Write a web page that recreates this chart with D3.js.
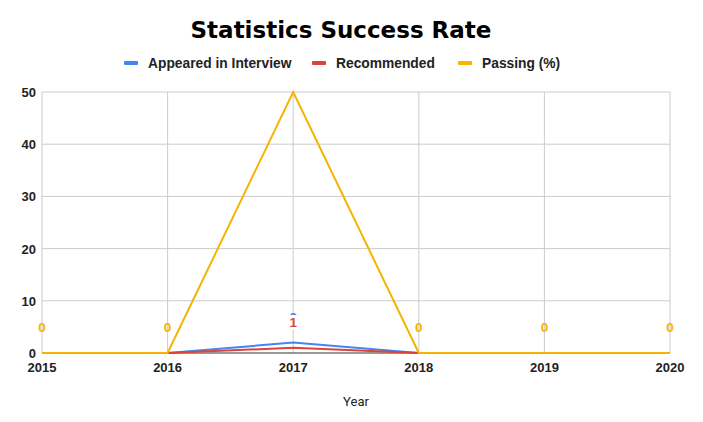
<!DOCTYPE html>
<html>
<head>
<meta charset="utf-8">
<script src="https://cdn.jsdelivr.net/npm/d3@7"></script>
<style>
  body { margin: 0; background: #fff; }
  text { font-family: "Liberation Sans", Arial, sans-serif; }
</style>
</head>
<body>
<svg width="703" height="422"></svg>
<script>
var years = [2015, 2016, 2017, 2018, 2019, 2020];
var appeared = [0, 0, 2, 0, 0, 0];
var recommended = [0, 0, 1, 0, 0, 0];
var passing = [0, 0, 50, 0, 0, 0];
var yTicks = [0, 10, 20, 30, 40, 50];

var series = [
	{ name: 'Appeared in Interview', values: appeared, color: '#4285f4' },
	{ name: 'Recommended', values: recommended, color: '#db4437' },
	{ name: 'Passing (%)', values: passing, color: '#f4b400' }
];

let svg = d3.select('svg');

let x = d3.scaleLinear().domain([2015, 2020]).range([42, 670]);
let y = d3.scaleLinear().domain([0, 50]).range([353, 92]);

// grid:

svg.append('g')
	.selectAll('line')
	.data(yTicks.slice(1))
	.enter()
	.append('line')
	.attr('x1', 42).attr('x2', 670)
	.attr('y1', (d) => y(d)).attr('y2', (d) => y(d))
	.attr('stroke', '#cccccc');

svg.append('g')
	.selectAll('line')
	.data(years)
	.enter()
	.append('line')
	.attr('x1', (d) => x(d)).attr('x2', (d) => x(d))
	.attr('y1', 92).attr('y2', 353)
	.attr('stroke', '#cccccc');

// axes labels:

svg.append('g')
	.selectAll('text')
	.data(yTicks)
	.enter()
	.append('text')
	.attr('x', 36)
	.attr('y', (d) => y(d) + 5)
	.attr('text-anchor', 'end')
	.style('font-size', '13px')
	.style('font-weight', 'bold')
	.attr('fill', '#222')
	.text((d) => d);

svg.append('g')
	.selectAll('text')
	.data(years)
	.enter()
	.append('text')
	.attr('x', (d) => x(d))
	.attr('y', 372)
	.attr('text-anchor', 'middle')
	.style('font-size', '13px')
	.style('font-weight', 'bold')
	.attr('fill', '#222')
	.text((d) => d);

svg.append('line')
	.attr('x1', 42).attr('x2', 670)
	.attr('y1', y(0)).attr('y2', y(0))
	.attr('stroke', '#333')
	.attr('stroke-width', 1);

// lines:

let line = d3.line().x((d, i) => x(years[i])).y((d) => y(d));

series.forEach((s) => {
	svg.append('path')
		.attr('d', line(s.values))
		.attr('fill', 'none')
		.attr('stroke', s.color)
		.attr('stroke-width', 2);
});

// data labels (blue one sits mostly hidden under the red one, as in the original):

svg.append('text')
	.attr('x', x(2017)).attr('y', 322)
	.attr('text-anchor', 'middle')
	.style('font-size', '13.5px').style('font-weight', 'bold')
	.attr('fill', '#4285f4')
	.text(appeared[2]);

svg.append('rect')
	.attr('x', x(2017) - 6).attr('y', 315)
	.attr('width', 12).attr('height', 14)
	.attr('fill', '#fff');

svg.append('text')
	.attr('x', x(2017)).attr('y', 327)
	.attr('text-anchor', 'middle')
	.style('font-size', '13.5px').style('font-weight', 'bold')
	.attr('fill', '#db4437')
	.text(recommended[2]);

svg.append('g')
	.selectAll('text')
	.data(passing.map((v, i) => ({ v: v, yr: years[i] })).filter((d) => d.v === 0))
	.enter()
	.append('text')
	.attr('x', (d) => x(d.yr))
	.attr('y', 332)
	.attr('text-anchor', 'middle')
	.style('font-size', '13.5px').style('font-weight', 'bold')
	.attr('fill', '#f4b400')
	.text((d) => d.v);

// title, legend:

svg.append('text')
	.attr('x', 341).attr('y', 38)
	.attr('text-anchor', 'middle')
	.style('font-family', '"DejaVu Sans", Verdana, sans-serif')
	.style('font-size', '23px').style('font-weight', 'bold')
	.attr('fill', '#000')
	.text('Statistics Success Rate');

var legendX = [124, 312, 458];
let legend = svg.append('g')
	.selectAll('g')
	.data(series)
	.enter()
	.append('g')
	.attr('transform', (d, i) => 'translate(' + legendX[i] + ',63)');
legend.append('rect')
	.attr('x', 0).attr('y', -2).attr('width', 14).attr('height', 4).attr('rx', 1)
	.attr('fill', (d) => d.color);
legend.append('text')
	.attr('x', 24).attr('y', 5)
	.style('font-size', '13.8px').style('font-weight', 'bold')
	.attr('fill', '#222')
	.text((d) => d.name);

svg.append('text')
	.attr('x', 356).attr('y', 406)
	.attr('text-anchor', 'middle')
	.style('font-family', 'Roboto, Arial, sans-serif')
	.style('font-size', '13px')
	.attr('fill', '#222')
	.text('Year');
</script>
</body>
</html>
